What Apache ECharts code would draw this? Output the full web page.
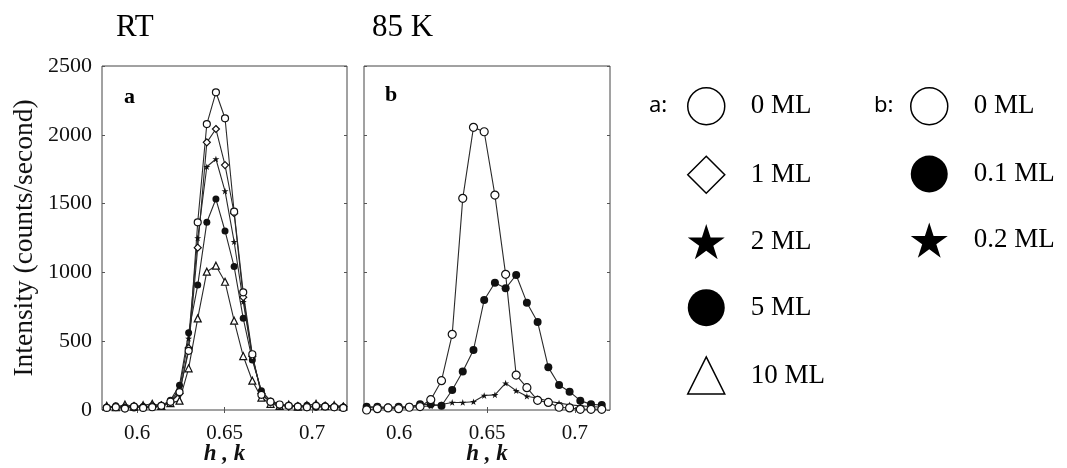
<!DOCTYPE html>
<html>
<head>
<meta charset="utf-8">
<script src="https://cdn.jsdelivr.net/npm/echarts@6/dist/echarts.min.js"></script>
<style>
  html, body { margin: 0; padding: 0; background: #fff; }
  #chart { width: 1067px; height: 468px; }
</style>
</head>
<body>
<div id="chart"></div>
<script>
// Scan positions (h, k in r.l.u.) for the room-temperature panel
const hRT = [0.5827, 0.5879, 0.5931, 0.5983, 0.6035, 0.6087, 0.6139, 0.6191, 0.6243,
  0.6295, 0.6347, 0.6399, 0.6451, 0.6503, 0.6555, 0.6607, 0.6659, 0.6711, 0.6763,
  0.6815, 0.6867, 0.6919, 0.6971, 0.7023, 0.7075, 0.7127, 0.7179];
// Intensities (counts/second), room temperature
const rt0ML  = [15, 20, 10, 25, 15, 20, 30, 60, 130, 430, 1364, 2078, 2309, 2120, 1441, 855, 405, 110, 60, 40, 30, 25, 20, 30, 25, 20, 15];
const rt1ML  = [20, 25, 15, 30, 20, 25, 35, 55, 120, 450, 1180, 1945, 2042, 1780, 1430, 820, 390, 120, 55, 35, 25, 30, 20, 25, 30, 20, 25];
const rt2ML  = [25, 15, 30, 20, 25, 15, 35, 65, 150, 520, 1250, 1768, 1824, 1591, 1223, 787, 380, 130, 70, 40, 35, 20, 30, 25, 20, 30, 20];
const rt5ML  = [20, 30, 20, 15, 25, 30, 30, 70, 180, 562, 908, 1364, 1533, 1301, 1042, 666, 363, 140, 65, 35, 30, 25, 35, 20, 30, 25, 20];
const rt10ML = [30, 20, 40, 25, 35, 45, 30, 50, 68, 303, 666, 1005, 1049, 932, 649, 392, 213, 90, 45, 30, 40, 25, 35, 45, 30, 35, 25];

// Scan positions for the 85 K panel
const hLT = [0.5815, 0.5876, 0.5937, 0.5997, 0.6058, 0.6119, 0.6180, 0.6241, 0.6302,
  0.6362, 0.6423, 0.6484, 0.6545, 0.6606, 0.6666, 0.6727, 0.6788, 0.6849, 0.6910,
  0.6970, 0.7031, 0.7092, 0.7153];
// Intensities (counts/second), 85 K
const lt0ML  = [0, 10, 15, 10, 20, 25, 75, 213, 550, 1538, 2054, 2022, 1562, 986, 254, 162, 70, 55, 20, 15, 5, 5, 5];
const lt01ML = [24, 24, 19, 24, 24, 41, 41, 31, 145, 280, 436, 800, 925, 884, 981, 780, 640, 310, 182, 133, 68, 41, 36];
const lt02ML = [20, 15, 20, 15, 20, 25, 30, 40, 55, 55, 60, 105, 110, 195, 140, 100, 85, 65, 50, 38, 30, 25, 20];

// Axis ticks
const hTicks = [0.6, 0.65, 0.7];
const intensityTicks = { min: 0, max: 2500, step: 500 };

const panelTitles = ['RT', '85 K'];
const legendA = ['0 ML', '1 ML', '2 ML', '5 ML', '10 ML'];
const legendB = ['0 ML', '0.1 ML', '0.2 ML'];

const STAR = 'path://M50,2 L61.2,36.5 L97.6,36.5 L68.2,57.9 L79.4,92.5 L50,71.1 L20.6,92.5 L31.8,57.9 L2.4,36.5 L38.8,36.5 Z';
const INK = '#111';
const SERIF = 'Liberation Serif, Times New Roman, serif';

const pairs = (xs, ys) => xs.map((x, i) => [x, ys[i]]);

const marker = {
  openCircle:  { symbol: 'circle',   itemStyle: { color: '#fff', borderColor: INK, borderWidth: 1.2 } },
  openDiamond: { symbol: 'diamond',  itemStyle: { color: '#fff', borderColor: INK, borderWidth: 1.2 } },
  star:        { symbol: STAR,       itemStyle: { color: INK, borderWidth: 0 } },
  dot:         { symbol: 'circle',   itemStyle: { color: INK, borderWidth: 0 } },
  openTri:     { symbol: 'triangle', itemStyle: { color: '#fff', borderColor: INK, borderWidth: 1.2 } }
};

function scan(name, xs, ys, m, size, gi) {
  return {
    name, type: 'line', xAxisIndex: gi, yAxisIndex: gi,
    data: pairs(xs, ys),
    symbol: m.symbol, symbolSize: size, symbolKeepAspect: true,
    showAllSymbol: true,
    itemStyle: m.itemStyle,
    lineStyle: { color: '#2a2a2a', width: 1.1 },
    emphasis: { disabled: true },
    animation: false
  };
}

const tickStyle = { show: true, inside: true, length: 3, lineStyle: { color: '#555' } };

// Bottom h,k axes with labels, plus label-free top axes that carry the inner ticks of the frame
const xAxisBottom = (gi) => ({
  type: 'value', gridIndex: gi, min: 0.58, max: 0.72,
  name: 'h , k', nameLocation: 'middle', nameGap: 33, nameMoveOverlap: false,
  nameTextStyle: { fontFamily: SERIF, fontStyle: 'italic', fontWeight: 'bold', fontSize: 23, color: INK },
  axisLine: { show: false },
  axisTick: Object.assign({ customValues: hTicks }, tickStyle),
  axisLabel: { fontFamily: SERIF, fontSize: 21, color: INK, margin: 13, customValues: hTicks,
               formatter: v => String(Math.round(v * 100) / 100) },
  splitLine: { show: false }
});
const xAxisTop = (gi) => ({
  type: 'value', gridIndex: gi, position: 'top', min: 0.58, max: 0.72,
  axisLine: { show: false },
  axisTick: Object.assign({ customValues: hTicks }, tickStyle),
  axisLabel: { show: false, customValues: hTicks },
  splitLine: { show: false }
});

const yAxisLeft = (gi, labels) => ({
  type: 'value', gridIndex: gi,
  min: intensityTicks.min, max: intensityTicks.max, interval: intensityTicks.step,
  axisLine: { show: false },
  axisTick: tickStyle,
  axisLabel: { show: labels, fontFamily: SERIF, fontSize: 22, color: INK, margin: 10,
               formatter: v => String(v) },
  splitLine: { show: false },
  name: labels ? 'Intensity (counts/second)' : '',
  nameLocation: 'middle', nameGap: 63, nameRotate: 90,
  nameTextStyle: { fontFamily: SERIF, fontSize: 27.5, color: INK }
});
const yAxisRight = (gi) => ({
  type: 'value', gridIndex: gi, position: 'right',
  min: intensityTicks.min, max: intensityTicks.max, interval: intensityTicks.step,
  axisLine: { show: false }, axisTick: tickStyle, axisLabel: { show: false }, splitLine: { show: false }
});

const legendItem = (name, m) => ({
  name, icon: m.symbol,
  itemStyle: Object.assign({}, m.itemStyle,
    m.itemStyle.borderColor ? { borderWidth: 1.5, borderColor: '#000' } : { color: '#000' })
});

const legendCommon = {
  orient: 'vertical', itemWidth: 37, itemHeight: 37, itemGap: 30,
  selectedMode: false, symbolKeepAspect: true,
  textStyle: { fontFamily: SERIF, fontSize: 27, color: '#000', padding: [0, 0, 0, 21] }
};

const titleStyle = { fontFamily: SERIF, fontSize: 31, fontWeight: 'normal', color: '#000' };

const gridBase = { show: true, borderColor: '#444', borderWidth: 1, backgroundColor: 'transparent',
                   top: 66, height: 344, containLabel: false, outerBoundsMode: 'none' };

const option = {
  backgroundColor: '#fff',
  animation: false,
  title: [
    { text: panelTitles[0], left: 116, top: 12, padding: 0, textStyle: titleStyle },
    { text: panelTitles[1], left: 372, top: 12, padding: 0, textStyle: titleStyle }
  ],
  grid: [
    Object.assign({ left: 102, width: 245 }, gridBase),
    Object.assign({ left: 364, width: 246 }, gridBase)
  ],
  xAxis: [xAxisBottom(0), xAxisBottom(1), xAxisTop(0), xAxisTop(1)],
  yAxis: [yAxisLeft(0, true), yAxisLeft(1, false), yAxisRight(0), yAxisRight(1)],
  legend: [
    Object.assign({}, legendCommon, { left: 682, top: 82,
      data: [
        legendItem(legendA[0], marker.openCircle),
        legendItem(legendA[1], marker.openDiamond),
        legendItem(legendA[2], marker.star),
        legendItem(legendA[3], marker.dot),
        legendItem(legendA[4], marker.openTri)
      ] }),
    Object.assign({}, legendCommon, { left: 905, top: 82,
      data: [
        legendItem(legendB[0], marker.openCircle),
        legendItem(legendB[1], marker.dot),
        legendItem(legendB[2], marker.star)
      ] })
  ],
  graphic: [
    { type: 'text', left: 124, top: 86, style: { text: 'a', font: 'bold 22px ' + SERIF, fill: '#000' } },
    { type: 'text', left: 385, top: 84, style: { text: 'b', font: 'bold 22px ' + SERIF, fill: '#000' } },
    { type: 'text', left: 649, top: 95, style: { text: 'a:', font: '22px Noto Sans, DejaVu Sans, sans-serif', fill: '#000' } },
    { type: 'text', left: 874, top: 95, style: { text: 'b:', font: '22px Noto Sans, DejaVu Sans, sans-serif', fill: '#000' } }
  ],
  series: [
    scan(legendA[4], hRT, rt10ML, marker.openTri, 7, 0),
    scan(legendA[3], hRT, rt5ML, marker.dot, 7, 0),
    scan(legendA[2], hRT, rt2ML, marker.star, 7, 0),
    scan(legendA[1], hRT, rt1ML, marker.openDiamond, 7, 0),
    scan(legendA[0], hRT, rt0ML, marker.openCircle, 7, 0),
    scan(legendB[2], hLT, lt02ML, marker.star, 7, 1),
    scan(legendB[1], hLT, lt01ML, marker.dot, 8, 1),
    scan('0 ML ', hLT, lt0ML, marker.openCircle, 8, 1)
  ]
};

const chart = echarts.init(document.getElementById('chart'), null, { renderer: 'canvas' });
chart.setOption(option);
</script>
</body>
</html>
